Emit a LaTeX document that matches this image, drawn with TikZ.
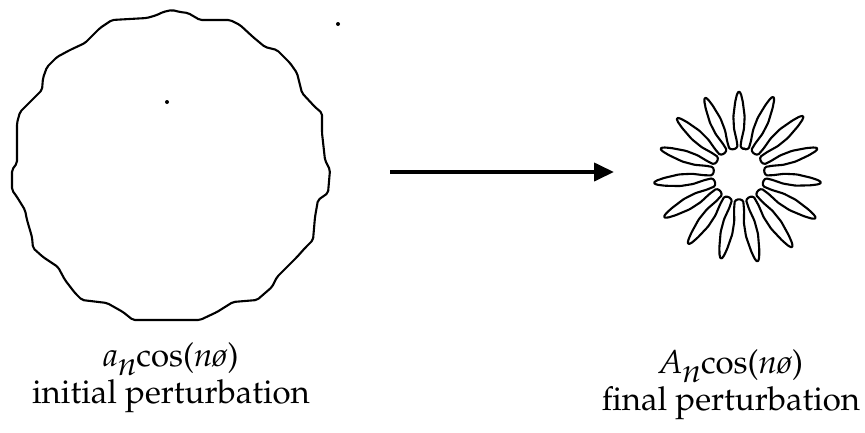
\documentclass[tikz,border=0pt]{standalone}
\usepackage[T1]{fontenc}
\usepackage{mathpazo}
\usetikzlibrary{arrows.meta}
\begin{document}
\begin{tikzpicture}[x=1pt,y=-1pt,
  outline/.style={line width=2.1pt, line join=round},
  arrowline/.style={line width=4pt, -{Triangle[length=20pt,width=18pt]}},
  label/.style={anchor=base, inner sep=0pt, align=center,
    font=\fontsize{33}{37}\selectfont},
  speck/.style={fill=black}]
\useasboundingbox (0,0) rectangle (865,432);
\fill[white] (0,0) rectangle (865,432);
% initial perturbation (traced outline)
\draw[outline, rounded corners=2pt]
  (172,10) -- (180,12) -- (188,13) -- (200,20) -- (230,20) -- (240,25) -- (253,37)
  -- (265,47) -- (277,50) -- (290,63) -- (297,73) -- (302,93) -- (315,107) -- (322,113)
  -- (322,133) -- (325,160) -- (330,170) -- (328,193) -- (318,200) -- (315,217)
  -- (313,240) -- (305,248) -- (297,257) -- (277,277) -- (272,287) -- (257,300)
  -- (233,302) -- (217,312) -- (200,320) -- (170,320) -- (133,320) -- (123,312)
  -- (107,303) -- (82,300) -- (75,293) -- (65,280) -- (58,267) -- (43,257) -- (33,248)
  -- (32,237) -- (27,220) -- (25,210) -- (17,197) -- (12,190) -- (12,170) -- (17,163)
  -- (17,123) -- (20,112) -- (32,100) -- (42,90) -- (43,78) -- (47,67) -- (57,57)
  -- (70,50) -- (85,43) -- (100,28) -- (112,20) -- (147,18) -- (157,15) -- (163,12) -- cycle;
% final perturbation
\begin{scope}[shift={(739,174)}, yscale=-1]
  \draw[outline, rounded corners=1.2pt] (78:25)
  \foreach \a/\L [evaluate=\L as \f using \L/86] in
    {90/83, 114/84, 138/84, 162/83, 186/86, 210/87, 234/87, 258/87,
     282/90, 306/91, 330/89, 354/83, 378/83, 402/87, 426/85}
  { -- ({\a-3.0}:27) -- ({\a-4.0}:{35*\f}) -- ({\a-6.3}:{47*\f}) -- ({\a-5.6}:{60*\f})
    -- ({\a-3.0}:{75*\f}) -- ({\a-1.4}:{83*\f}) -- (\a:{86*\f})
    -- ({\a+1.4}:{83*\f}) -- ({\a+3.0}:{75*\f}) -- ({\a+5.6}:{60*\f})
    -- ({\a+6.3}:{47*\f}) -- ({\a+4.0}:{35*\f}) -- ({\a+3.0}:27) -- ({\a+12}:25) } -- cycle;
\end{scope}
% arrow
\coordinate (arrS) at (390,172);
\coordinate (arrE) at (614,172);
\draw[arrowline] (arrS) -- (arrE);
% specks
\fill[speck] (167,102) circle (2);
\fill[speck] (338,24) circle (2);
% labels
\node[label] (left) at (171,403)
  {\textit{a}\raisebox{-0.6ex}{\textit{n}}cos(\textit{n\o})\\ initial perturbation};
\node[label] (right) at (731,410)
  {\textit{A}\raisebox{-0.6ex}{\textit{n}}cos(\textit{n\o})\\ final perturbation};
\end{tikzpicture}
\end{document}
